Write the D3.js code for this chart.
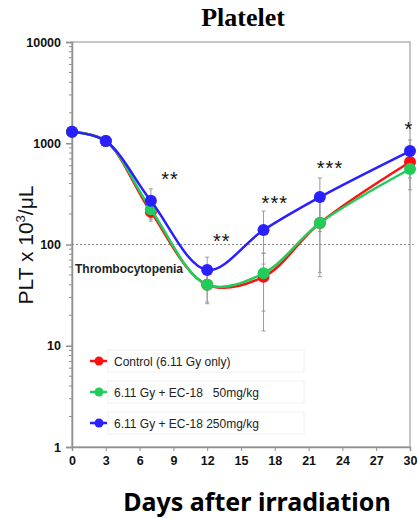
<!DOCTYPE html>
<html>
<head>
<meta charset="utf-8">
<script src="https://cdn.jsdelivr.net/npm/d3@7"></script>
<style>
  body { margin: 0; background: #fff; }
  svg text { font-family: Arial, "Liberation Sans", sans-serif; }
</style>
</head>
<body>
<div id="chart"></div>
<script>
// days sampled
var days = [0, 3, 7, 12, 17, 22, 30];

// platelet counts (x10^3/uL), mean and SD per group
var control = [1300, 1050, 210, 40, 48, 163, 653];
var controlSd = [150, 120, 40, 14, 34, 110, 200];
var ec50 = [1300, 1050, 223, 40, 52, 163, 557];
var ec50Sd = [150, 120, 45, 13, 30, 115, 210];
var ec250 = [1300, 1050, 270, 56, 139, 294, 838];
var ec250Sd = [150, 120, 85, 19, 75, 160, 240];

var seriesNames = ["Control (6.11 Gy only)", "6.11 Gy + EC-18   50mg/kg", "6.11 Gy + EC-18 250mg/kg"];
var seriesColors = ["#ff1010", "#22cc5a", "#2a1fff"];

var xTicks = [0, 3, 6, 9, 12, 15, 18, 21, 24, 27, 30];
var yTicks = [1, 10, 100, 1000, 10000];

// significance marks (day position, baseline value, label)
var sigDays = [8.7, 13.3, 18.0, 22.9, 29.9];
var sigValues = [378, 92, 219, 485, 1180];
var sigLabels = ["**", "**", "***", "***", "*"];

var threshold = 100;

var series = [
  {name: seriesNames[0], color: seriesColors[0], values: control, sd: controlSd},
  {name: seriesNames[1], color: seriesColors[1], values: ec50, sd: ec50Sd},
  {name: seriesNames[2], color: seriesColors[2], values: ec250, sd: ec250Sd}
];

var margin = {top: 42, right: 8, bottom: 71, left: 72};

var x = d3.scaleLinear().domain([0, 30]).range([0, 338]);
var y = d3.scaleLog().domain([1, 10000]).range([405, 0]);

var svg = d3.select("#chart").append("svg")
    .attr("width", 418)
    .attr("height", 518);

var g = svg.append("g")
    .attr("transform", "translate(" + margin.left + "," + margin.top + ")");

// title
svg.append("text")
    .attr("x", 243).attr("y", 26)
    .attr("text-anchor", "middle")
    .style("font-family", "'Liberation Serif', 'Times New Roman', serif")
    .style("font-weight", "bold")
    .style("font-size", "26px")
    .text("Platelet");

// frame
g.append("rect")
    .attr("x", 0).attr("y", 0)
    .attr("width", x(30)).attr("height", y(1))
    .attr("fill", "none")
    .attr("stroke", "#a0a0a0")
    .attr("stroke-width", 1.2);

// y axis with log minor ticks
var minor = [];
for (var p = 0; p < 4; p++) {
  for (var m = 2; m <= 9; m++) minor.push(m * Math.pow(10, p));
}
g.selectAll(".ymin").data(minor).enter().append("line")
    .attr("x1", -3).attr("x2", 0)
    .attr("y1", function(d) { return y(d); })
    .attr("y2", function(d) { return y(d); })
    .attr("stroke", "#909090");

var yAxis = g.append("g")
    .call(d3.axisLeft(y).tickValues(yTicks).tickFormat(d3.format("d")).tickSize(6).tickPadding(5));
yAxis.select(".domain").attr("stroke", "#909090").attr("stroke-width", 1.5);
yAxis.selectAll(".tick line").attr("stroke", "#909090").attr("stroke-width", 1.5);
yAxis.selectAll("text")
    .style("font-size", "12.5px").style("font-weight", "bold")
    .style("font-family", "Arial, 'Liberation Sans', sans-serif")
    .attr("fill", "#111");

var xAxis = g.append("g")
    .attr("transform", "translate(0," + y(1) + ")")
    .call(d3.axisBottom(x).tickValues(xTicks).tickSize(4).tickPadding(5));
xAxis.select(".domain").attr("stroke", "#909090").attr("stroke-width", 1.5);
xAxis.selectAll(".tick line").attr("stroke", "#909090");
xAxis.selectAll("text")
    .style("font-size", "12.5px").style("font-weight", "bold")
    .style("font-family", "Arial, 'Liberation Sans', sans-serif")
    .attr("fill", "#111");

// thrombocytopenia threshold
g.append("line")
    .attr("x1", 0).attr("x2", x(30) + 6)
    .attr("y1", y(threshold)).attr("y2", y(threshold))
    .attr("stroke", "#888")
    .attr("stroke-width", 1)
    .attr("stroke-dasharray", "2,2");

g.append("text")
    .attr("x", 3).attr("y", y(threshold) + 28)
    .style("font-size", "12px").style("font-weight", "bold")
    .attr("fill", "#222")
    .text("Thrombocytopenia");

// error bars
series.forEach(function(s) {
  var eb = g.append("g");
  days.forEach(function(d, i) {
    var hi = s.values[i] + s.sd[i], lo = Math.max(s.values[i] - s.sd[i], 1);
    eb.append("line")
        .attr("x1", x(d)).attr("x2", x(d))
        .attr("y1", y(hi)).attr("y2", y(lo))
        .attr("stroke", "#9a9a9a").attr("stroke-width", 1);
    [hi, lo].forEach(function(v) {
      eb.append("line")
          .attr("x1", x(d) - 2).attr("x2", x(d) + 2)
          .attr("y1", y(v)).attr("y2", y(v))
          .attr("stroke", "#9a9a9a").attr("stroke-width", 1);
    });
  });
});

// smoothed lines
var line = d3.line()
    .x(function(d) { return x(d[0]); })
    .y(function(d) { return y(d[1]); })
    .curve(d3.curveCatmullRom.alpha(0.5));

series.forEach(function(s) {
  var pts = days.map(function(d, i) { return [d, s.values[i]]; });
  g.append("path")
      .datum(pts)
      .attr("fill", "none")
      .attr("stroke", s.color)
      .attr("stroke-width", 2.5)
      .attr("d", line);
  g.selectAll(null).data(pts).enter().append("circle")
      .attr("cx", function(d) { return x(d[0]); })
      .attr("cy", function(d) { return y(d[1]); })
      .attr("r", 6)
      .attr("fill", s.color);
});

// significance stars
g.selectAll(".sig").data(sigLabels).enter().append("text")
    .attr("x", function(d, i) { return x(sigDays[i]); })
    .attr("y", function(d, i) { return y(sigValues[i]); })
    .attr("text-anchor", "middle")
    .style("font-size", "20px")
    .style("letter-spacing", "1px")
    .attr("fill", "#111")
    .text(function(d) { return d; });

// legend
var legend = g.append("g").attr("transform", "translate(18, 319)");
series.forEach(function(s, i) {
  var row = legend.append("g").attr("transform", "translate(0," + (i * 31) + ")");
  row.append("rect")
      .attr("x", 18).attr("y", -11)
      .attr("width", 196).attr("height", 22)
      .attr("fill", "#fff")
      .attr("stroke", "#f0f0f0");
  row.append("line")
      .attr("x1", 0).attr("x2", 17)
      .attr("y1", 0).attr("y2", 0)
      .attr("stroke", s.color).attr("stroke-width", 2.5);
  row.append("circle")
      .attr("cx", 9).attr("cy", 0).attr("r", 4.5)
      .attr("fill", s.color);
  row.append("text")
      .attr("x", 24).attr("y", 4.5)
      .style("font-size", "12px")
      .style("white-space", "pre")
      .attr("fill", "#222")
      .text(s.name);
});

// axis titles
svg.append("text")
    .attr("transform", "translate(33," + 245 + ") rotate(-90)")
    .attr("text-anchor", "middle")
    .style("font-size", "21px")
    .attr("fill", "#111")
    .html("PLT x 10<tspan dy='-8' font-size='13px'>3</tspan><tspan dy='8'>/μL</tspan>");

svg.append("text")
    .attr("x", 257).attr("y", 511)
    .attr("text-anchor", "middle")
    .style("font-family", "'Noto Sans', 'Open Sans', sans-serif")
    .style("font-weight", "bold")
    .style("font-size", "25px")
    .attr("fill", "#000")
    .text("Days after irradiation");
</script>
</body>
</html>
